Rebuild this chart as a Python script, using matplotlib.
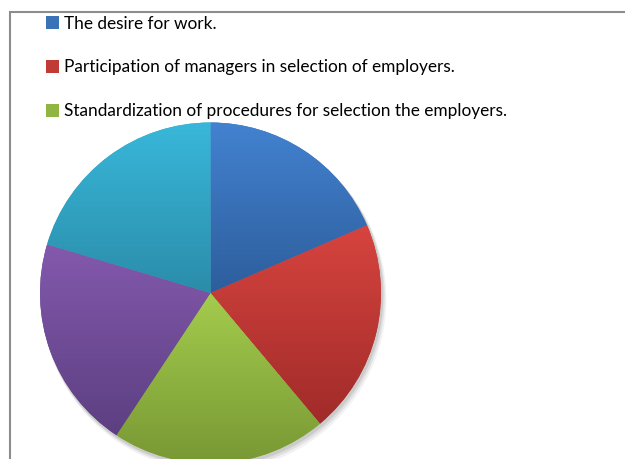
import numpy as np
import matplotlib
matplotlib.use("Agg")
import matplotlib.pyplot as plt
from matplotlib.patches import Patch, Rectangle, Circle
from matplotlib.colors import to_rgb

labels = ["The desire for work.",
          "Participation of managers in selection of employers.",
          "Standardization of procedures for selection the employers.",
          "Category 4",
          "Category 5"]
values = [18.5, 20.4, 20.4, 20.3, 20.4]
top_colors = ["#4382D0", "#D7443F", "#A4CC4D", "#8459AD", "#39B7DA"]
bot_colors = ["#2D5E9C", "#A02B29", "#789834", "#5C3F81", "#2A8DA9"]
mid_colors = ["#3A72B8", "#C03A36", "#90B541", "#704D98", "#31A3C3"]

W, H = 625, 459
cx, cy, R = 210.5, 293.0, 170.5

fig = plt.figure(figsize=(W / 100, H / 100), dpi=100)
ax = fig.add_axes([0, 0, 1, 1])
ax.set_axis_off()

# soft shadow
for off, a in [(0.035, 0.05), (0.025, 0.07), (0.015, 0.09)]:
    ax.add_patch(Circle((off * 0.6, -off), 1.0 + off * 0.3, color="black", alpha=a, lw=0, zorder=0))

wedges, _ = ax.pie(values, colors=mid_colors, startangle=90, counterclock=False,
                   wedgeprops=dict(linewidth=0, zorder=1))

# vertical gradient inside each wedge
for w, ct, cb in zip(wedges, top_colors, bot_colors):
    ext = w.get_path().get_extents(w.get_patch_transform())
    ct, cb = np.array(to_rgb(ct)), np.array(to_rgb(cb))
    t = np.linspace(0, 1, 256)[:, None]
    img = (ct[None, :] * (1 - t) + cb[None, :] * t)[:, None, :]
    im = ax.imshow(img, extent=[ext.x0, ext.x1, ext.y0, ext.y1], origin="upper",
                   aspect="auto", zorder=2, interpolation="bilinear")
    im.set_clip_path(w)

ax.set_xlim(-cx / R, (W - cx) / R)
ax.set_ylim((cy - H) / R, cy / R)
ax.set_aspect("auto")

# frame
fig.patches.append(Rectangle((10 / W, -0.1), 1.2, (H - 12) / H + 0.1, transform=fig.transFigure,
                             fill=False, edgecolor="#8c8c8c", linewidth=1.5))

handles = [Patch(facecolor=c, edgecolor="none") for c in mid_colors[:3]]
fig.legend(handles, labels[:3], loc="upper left", bbox_to_anchor=(43 / W, 1 - 13 / H),
           frameon=False, prop=dict(family="Lato", size=12.4), handlelength=0.8,
           handleheight=0.8, handletextpad=0.25, labelspacing=1.62, borderaxespad=0,
           borderpad=0.15)

fig.savefig("out.png", dpi=100)
